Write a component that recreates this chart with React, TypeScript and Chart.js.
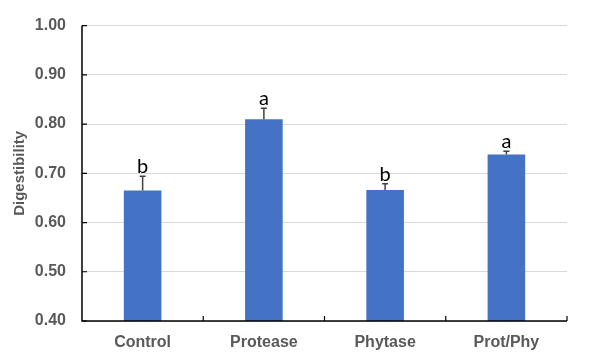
import React, { useEffect, useRef } from "react";
import { Chart, registerables } from "chart.js";

Chart.register(...registerables);

const categories = ["Control", "Protease", "Phytase", "Prot/Phy"];
const digestibility = [0.665, 0.81, 0.666, 0.738];
const errors = [0.029, 0.022, 0.013, 0.007];
const letters = ["b", "a", "b", "a"];
const yTicks = [0.4, 0.5, 0.6, 0.7, 0.8, 0.9, 1.0];

const extrasPlugin = {
  id: "extras",
  afterDatasetsDraw(chart: any) {
    const ctx = chart.ctx;
    const x = chart.scales.x;
    const y = chart.scales.y;
    const meta = chart.getDatasetMeta(0);
    ctx.save();
    // error bars
    ctx.strokeStyle = "#404040";
    ctx.lineWidth = 1.5;
    meta.data.forEach((bar: any, i: number) => {
      const top = y.getPixelForValue(digestibility[i] + errors[i]);
      const base = y.getPixelForValue(digestibility[i]);
      ctx.beginPath();
      ctx.moveTo(bar.x, base);
      ctx.lineTo(bar.x, top);
      ctx.moveTo(bar.x - 3, top);
      ctx.lineTo(bar.x + 3, top);
      ctx.stroke();
      // letters
      ctx.fillStyle = "#000";
      ctx.font = "20px Lato, 'Open Sans', sans-serif";
      ctx.textAlign = "center";
      ctx.textBaseline = "alphabetic";
      ctx.fillText(letters[i], bar.x, top - 3);
    });
    // axes lines
    ctx.strokeStyle = "#000";
    ctx.lineWidth = 1.5;
    ctx.beginPath();
    ctx.moveTo(x.left, y.top);
    ctx.lineTo(x.left, y.bottom);
    ctx.lineTo(x.right, y.bottom);
    ctx.stroke();
    // y inward ticks
    ctx.lineWidth = 1.2;
    ctx.beginPath();
    yTicks.forEach((v) => {
      const py = y.getPixelForValue(v);
      ctx.moveTo(x.left, py);
      ctx.lineTo(x.left + 5, py);
    });
    // x inward ticks at category boundaries
    for (let i = 0; i < categories.length; i++) {
      const px =
        i < categories.length - 1
          ? (x.getPixelForTick(i) + x.getPixelForTick(i + 1)) / 2
          : x.right;
      ctx.moveTo(px, y.bottom);
      ctx.lineTo(px, y.bottom - 5);
    }
    ctx.stroke();
    ctx.restore();
  },
};

export default function App() {
  const ref = useRef<HTMLCanvasElement>(null);
  useEffect(() => {
    const chart = new Chart(ref.current!, {
      type: "bar",
      data: {
        labels: categories,
        datasets: [
          {
            data: digestibility,
            backgroundColor: "#4472C4",
            borderWidth: 0,
            categoryPercentage: 1,
            barPercentage: 0.31,
          },
        ],
      },
      options: {
        animation: false,
        responsive: true,
        maintainAspectRatio: false,
        layout: { padding: { top: 24, right: 33, left: 0, bottom: 0 } },
        plugins: { legend: { display: false }, tooltip: { enabled: false } },
        scales: {
          x: {
            grid: { display: false, drawTicks: false },
            border: { display: false },
            ticks: {
              color: "#595959",
              font: { family: "Arial, 'Liberation Sans'", size: 16, weight: "bold" },
              padding: 12,
            },
            afterFit: (s: any) => {
              s.height = 42;
            },
          },
          y: {
            min: 0.4,
            max: 1.0,
            grid: { color: "#d9d9d9", lineWidth: 1, drawTicks: false },
            border: { display: false },
            ticks: {
              stepSize: 0.1,
              color: "#595959",
              font: { family: "Arial, 'Liberation Sans'", size: 16, weight: "bold" },
              padding: 16,
              callback: (v: any) => Number(v).toFixed(2),
            },
            title: {
              display: true,
              text: "Digestibility",
              color: "#595959",
              font: { family: "Arial, 'Liberation Sans'", size: 15, weight: "bold" },
              padding: { top: 11, bottom: 0 },
            },
            afterFit: (s: any) => {
              s.width = 82;
            },
          },
        },
      },
      plugins: [extrasPlugin],
    });
    return () => chart.destroy();
  }, []);
  return (
    <div style={{ position: "fixed", left: 0, top: 0, width: 600, height: 363, background: "#fff" }}>
      <canvas ref={ref} />
    </div>
  );
}
